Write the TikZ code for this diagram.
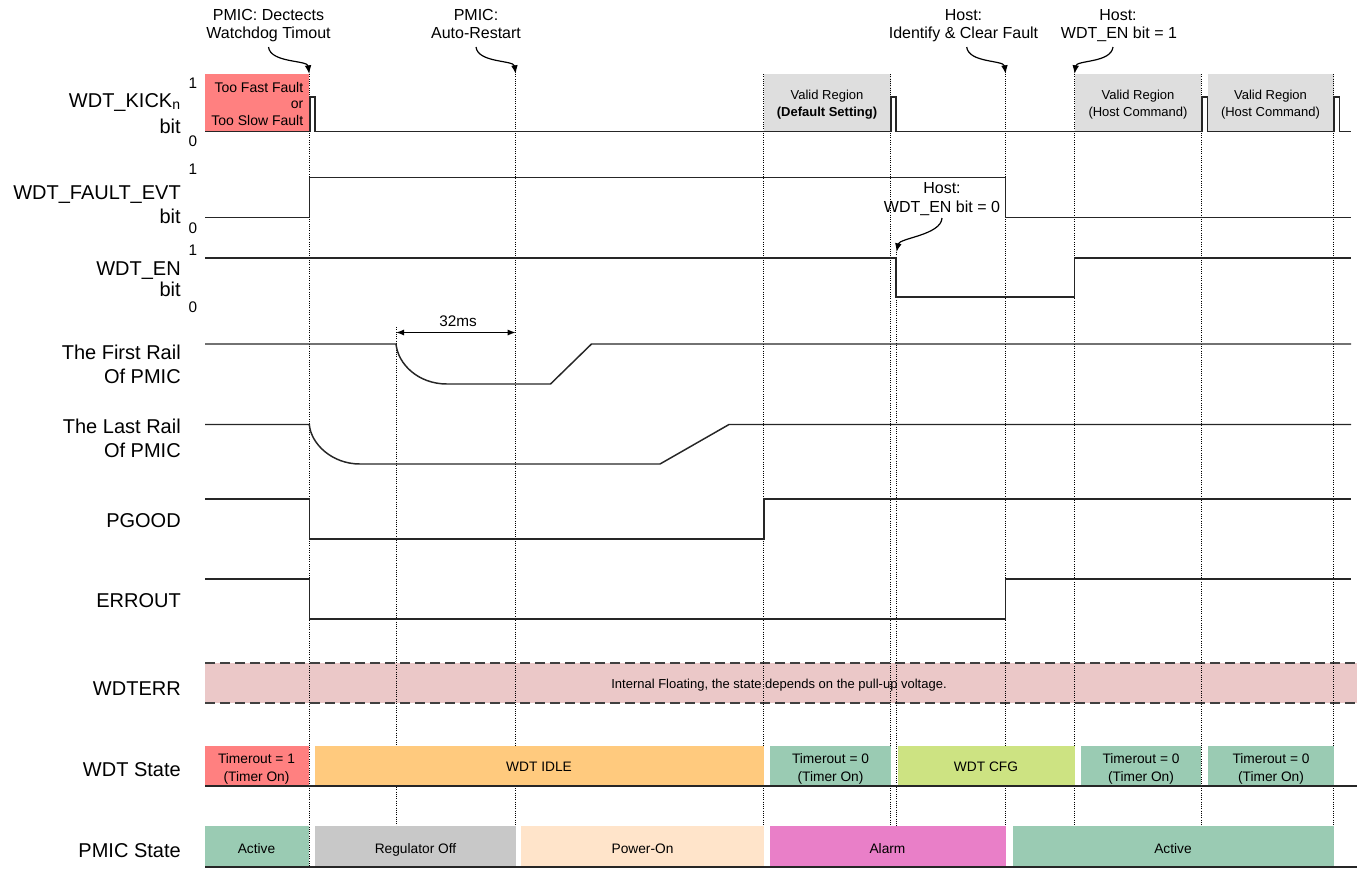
\documentclass[tikz,border=0pt]{standalone}
\usepackage{fontspec}
\setmainfont{Liberation Sans}
\usetikzlibrary{arrows.meta}
\definecolor{sig}{HTML}{262626}
\definecolor{faultred}{HTML}{FF8080}
\definecolor{validgrey}{HTML}{DEDEDE}
\definecolor{idleorange}{HTML}{FFCA7E}
\definecolor{okgreen}{HTML}{9ACBB3}
\definecolor{cfglime}{HTML}{CDE382}
\definecolor{offgrey}{HTML}{C8C8C8}
\definecolor{poweronpeach}{HTML}{FFE4CA}
\definecolor{alarmpink}{HTML}{E97FC8}
\definecolor{errpink}{HTML}{EBC8C8}
\definecolor{dashgrey}{HTML}{404040}
\begin{document}
\begin{tikzpicture}[x=0.75pt,y=-0.75pt,
  sigline/.style={draw=sig,line width=1.1pt,line join=miter},
  guide/.style={draw=black,densely dotted,line width=0.7pt},
  baseline line/.style={draw=sig,line width=0.9pt},
  errdash/.style={draw=dashgrey,line width=1.1pt,dash pattern=on 7.5pt off 3.75pt},
  lbl/.style={anchor=base east,inner sep=0pt,font=\fontsize{15}{18}\selectfont},
  lvl/.style={anchor=base,inner sep=0pt,font=\fontsize{11.5}{13}\selectfont},
  ann/.style={anchor=base,inner sep=0pt,font=\fontsize{12}{14}\selectfont},
  btxt/.style={anchor=base,inner sep=0pt,font=\fontsize{10.3}{12}\selectfont},
  vtxt/.style={anchor=base,inner sep=0pt,font=\fontsize{9.75}{12}\selectfont},
  ftxt/.style={anchor=base east,inner sep=0pt,font=\fontsize{10.5}{12}\selectfont},
  annarrow/.style={draw=black,line width=0.9pt,-{Latex[length=6.5pt,width=5pt]}},
  dimarrow/.style={draw=black,line width=0.9pt,{Latex[length=6pt,width=4.5pt]}-{Latex[length=6pt,width=4.5pt]}}
]
\useasboundingbox (0,0) rectangle (1357,868);

% ---------- WDTERR band ----------
\fill[errpink] (205,663) rectangle (1357,703);
\draw[errdash] (205,663) -- (1357,663);
\draw[errdash] (205,703) -- (1357,703);

% ---------- top region boxes ----------
\fill[faultred] (205,74) rectangle (308.5,131.5);
\fill[validgrey] (764,74) rectangle (890.5,131.5);
\fill[validgrey] (1075,74) rectangle (1201.3,131.5);
\fill[validgrey] (1207.5,74) rectangle (1333.5,131.5);

% ---------- guide lines ----------
\coordinate (g1) at (309.3,74);
\coordinate (g2) at (396,327);
\coordinate (g3) at (515.7,74);
\coordinate (g4) at (763.5,74);
\coordinate (g5) at (890.5,74);
\coordinate (g6) at (896.5,252);
\coordinate (g7) at (1005.7,74);
\coordinate (g8) at (1074.5,74);
\coordinate (g9) at (1201.3,74);
\coordinate (g10) at (1333.5,74);
\draw[guide] (g1) -- (309.3,868);
\draw[guide] (g2) -- (396,826);
\draw[guide] (g3) -- (515.7,868);
\draw[guide] (g4) -- (763.5,868);
\draw[guide] (g5) -- (890.5,826);
\draw[guide] (g6) -- (896.5,826);
\draw[guide] (g7) -- (1005.7,868);
\draw[guide] (g8) -- (1074.5,826);
\draw[guide] (g9) -- (1201.3,826);
\draw[guide] (g10) -- (1333.5,868);

% ---------- WDT state boxes ----------
\fill[faultred] (205,746) rectangle (308.5,786);
\fill[idleorange] (315,746) rectangle (763.5,786);
\fill[okgreen] (769.5,746) rectangle (890.5,786);
\fill[cfglime] (897.5,746) rectangle (1074.5,786);
\fill[okgreen] (1081,746) rectangle (1201.3,786);
\fill[okgreen] (1208,746) rectangle (1333.5,786);
\draw[baseline line] (205,786) -- (1357,786);

% ---------- PMIC state boxes ----------
\fill[okgreen] (205,826) rectangle (308.5,867);
\fill[offgrey] (315,826) rectangle (515.7,867);
\fill[poweronpeach] (521,826) rectangle (763.5,867);
\fill[alarmpink] (769.5,826) rectangle (1005.7,867);
\fill[okgreen] (1012.5,826) rectangle (1333.5,867);
\draw[baseline line] (205,867) -- (1357,867);

% ---------- signals ----------
\draw[sigline] (205,131.5) -- (310,131.5) -- (310,97) -- (315,97) -- (315,131.5)
  -- (891,131.5) -- (891,97) -- (896,97) -- (896,131.5)
  -- (1202,131.5) -- (1202,97) -- (1207.3,97) -- (1207.3,131.5)
  -- (1334,131.5) -- (1334,97) -- (1339.3,97) -- (1339.3,131.5) -- (1351,131.5);
\draw[sigline] (205,217.5) -- (309.5,217.5) -- (309.5,177.5) -- (1005.7,177.5)
  -- (1005.7,217.5) -- (1351,217.5);
\draw[sigline] (205,258) -- (896,258) -- (896,297) -- (1074.5,297) -- (1074.5,258) -- (1351,258);
\draw[sigline] (205,344) -- (396,344) .. controls (398,364) and (418,384) .. (447,384)
  -- (550.5,384) -- (591.5,344) -- (1351,344);
\draw[sigline] (205,424.5) -- (309.3,424.5) .. controls (311,444) and (332,464) .. (360,464)
  -- (660,464) -- (729,424.5) -- (1351,424.5);
\draw[sigline] (205,499) -- (309.5,499) -- (309.5,539) -- (764,539) -- (764,499) -- (1351,499);
\draw[sigline] (205,579) -- (309.5,579) -- (309.5,619) -- (1005.7,619) -- (1005.7,579) -- (1351,579);

% ---------- 32ms ----------
\coordinate (m1) at (396,332.5);
\coordinate (m2) at (515.7,332.5);
\draw[dimarrow] (m1) -- (m2);
\node[lvl] (t32) at (458,326) {32ms};

% ---------- row labels ----------
\node[lbl] (lkick) at (181,107) {WDT\_KICK\textsubscript{n}};
\node[lbl] (lkickb) at (181,133) {bit};
\node[lvl] (k1) at (193,88) {1};
\node[lvl] (k0) at (193,146) {0};
\node[lbl] (lfe) at (181,199) {WDT\_FAULT\_EVT};
\node[lbl] (lfeb) at (181,223) {bit};
\node[lvl] (f1) at (193,174) {1};
\node[lvl] (f0) at (193,233) {0};
\node[lbl] (len) at (181,275) {WDT\_EN};
\node[lbl] (lenb) at (181,296) {bit};
\node[lvl] (e1) at (193,255.5) {1};
\node[lvl] (e0) at (193,312) {0};
\node[lbl] (lfr) at (181,359.5) {The First Rail};
\node[lbl] (lfr2) at (181,383.5) {Of PMIC};
\node[lbl] (llr) at (181,433.5) {The Last Rail};
\node[lbl] (llr2) at (181,457) {Of PMIC};
\node[lbl] (lpg) at (181,527) {PGOOD};
\node[lbl] (ler) at (181,607.5) {ERROUT};
\node[lbl] (lwe) at (181,695.5) {WDTERR};
\node[lbl] (lws) at (181,776) {WDT State};
\node[lbl] (lps) at (181,857) {PMIC State};

% ---------- box texts ----------
\node[ftxt] (tf1) at (303.5,92) {Too Fast Fault};
\node[ftxt] (tf2) at (303.5,108) {or};
\node[ftxt] (tf3) at (303.5,125) {Too Slow Fault};
\node[vtxt] (v1a) at (827,99) {Valid Region};
\node[vtxt] (v1b) at (827,116) {\bfseries (Default Setting)};
\node[vtxt] (v2a) at (1138,99) {Valid Region};
\node[vtxt] (v2b) at (1138,116) {(Host Command)};
\node[vtxt] (v3a) at (1270.5,99) {Valid Region};
\node[vtxt] (v3b) at (1270.5,116) {(Host Command)};
\node[vtxt] (werr) at (779,688) {Internal Floating, the state depends on the pull-up voltage.};

\node[btxt] (w1a) at (256.5,763) {Timerout = 1};
\node[btxt] (w1b) at (256.5,781) {(Timer On)};
\node[btxt] (w2) at (539,771) {WDT IDLE};
\node[btxt] (w3a) at (830.5,763) {Timerout = 0};
\node[btxt] (w3b) at (830.5,781) {(Timer On)};
\node[btxt] (w4) at (986,771) {WDT CFG};
\node[btxt] (w5a) at (1141,763) {Timerout = 0};
\node[btxt] (w5b) at (1141,781) {(Timer On)};
\node[btxt] (w6a) at (1271,763) {Timerout = 0};
\node[btxt] (w6b) at (1271,781) {(Timer On)};

\node[btxt] (p1) at (256.5,853) {Active};
\node[btxt] (p2) at (415.5,853) {Regulator Off};
\node[btxt] (p3) at (642.5,853) {Power-On};
\node[btxt] (p4) at (887.5,853) {Alarm};
\node[btxt] (p5) at (1173,853) {Active};

% ---------- annotations ----------
\node[ann] (a1a) at (268.5,20) {PMIC: Dectects};
\node[ann] (a1b) at (268.5,38.5) {Watchdog Timout};
\node[ann] (a2a) at (476,20) {PMIC:};
\node[ann] (a2b) at (476,38.5) {Auto-Restart};
\node[ann] (a3a) at (963.5,20) {Host:};
\node[ann] (a3b) at (963.5,38.5) {Identify \& Clear Fault};
\node[ann] (a4a) at (1118,20) {Host:};
\node[ann] (a4b) at (1119,38.5) {WDT\_EN bit = 1};
\node[ann] (a5a) at (942,193.3) {Host:};
\node[ann] (a5b) at (942,212.7) {WDT\_EN bit = 0};

\draw[annarrow] ([yshift=-6.4pt]a1b.base) .. controls +(2,16) and +(-2,-14) .. (g1);
\draw[annarrow] ([yshift=-6.4pt]a2b.base) .. controls +(2,16) and +(-2,-14) .. (g3);
\draw[annarrow] ([xshift=2.4pt,yshift=-6.4pt]a3b.base) .. controls +(2,16) and +(-2,-14) .. (g7);
\draw[annarrow] ([xshift=-4.5pt,yshift=-6.4pt]a4b.base) .. controls +(-2,16) and +(2,-14) .. (g8);
\draw[annarrow] ([yshift=-4pt]a5b.base) .. controls +(-1,17) and +(3,-14) .. (g6);
\end{tikzpicture}
\end{document}
